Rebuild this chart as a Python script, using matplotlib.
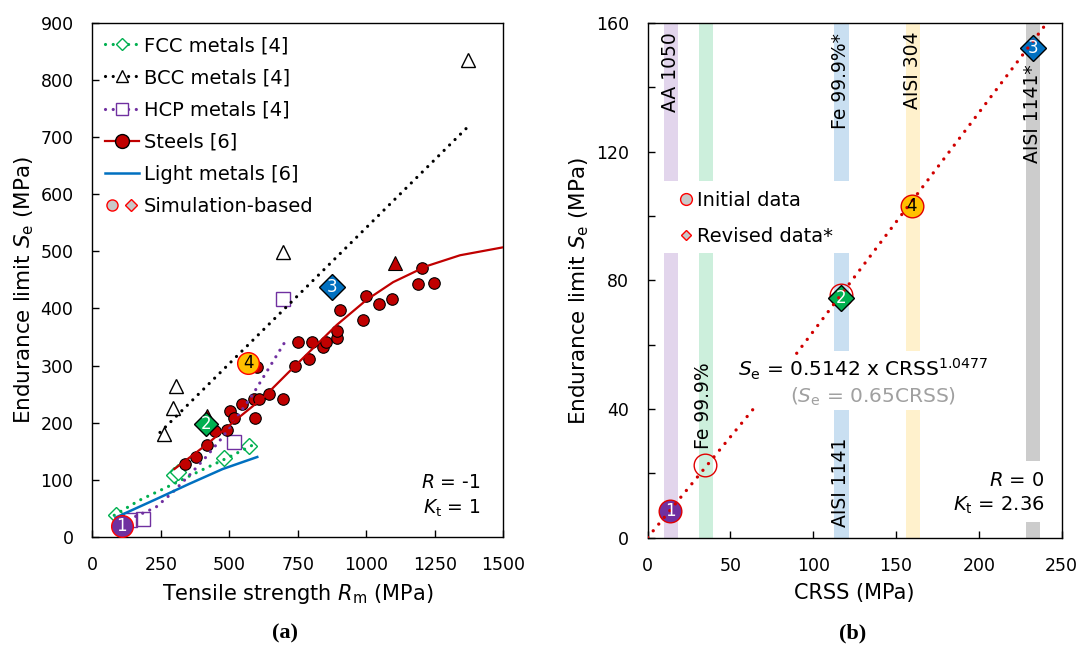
import numpy as np
import matplotlib.pyplot as plt
from matplotlib.lines import Line2D
from matplotlib.legend_handler import HandlerTuple

plt.rcParams['font.family'] = ['DejaVu Sans']
plt.rcParams['mathtext.fontset'] = 'dejavusans'

## DATA (a) ------
fcc_rm = [85, 299, 314, 482, 573]
fcc_se = [38, 108, 113, 138, 159]
fcc_fit_rm = [80, 171, 293, 390, 500, 598]
fcc_fit_se = [38, 64, 92, 115, 140, 164]

bcc_rm = [262, 293, 307, 697, 1371]
bcc_se = [180, 225, 265, 499, 834]
bcc_fit_rm = [247, 1371]
bcc_fit_se = [183, 718]

hcp_rm = [138, 184, 517, 697]
hcp_se = [30, 32, 167, 416]
hcp_fit_rm = [107, 232, 293, 354, 415, 476, 537, 585, 709]
hcp_fit_se = [25, 52, 78, 108, 140, 175, 216, 249, 346]

steel_rm = [338, 378, 418, 449, 490, 504, 516, 546, 589, 595, 607, 644, 695, 600,
            740, 749, 789, 803, 843, 854, 894, 894, 903, 987, 999, 1046, 1095,
            1187, 1203, 1247]
steel_se = [128, 140, 161, 186, 187, 221, 209, 233, 241, 209, 241, 250, 241, 298,
            300, 342, 312, 342, 332, 342, 349, 361, 398, 379, 421, 408, 417,
            442, 470, 444]
steel_tri_rm = [420, 1103]
steel_tri_se = [212, 480]
steel_fit_rm = [300, 415, 524, 622, 720, 892, 1001, 1098, 1220, 1342, 1500]
steel_fit_se = [119, 161, 205, 243, 290, 371, 415, 446, 474, 493, 507]

light_fit_rm = [85, 232, 354, 476, 602]
light_fit_se = [34, 66, 93, 119, 140]

# simulation-based points 1..4
sim_rm = [107, 414, 876, 569]
sim_se = [20, 198, 438, 304]

## DATA (b) ------
bar_crss = [14, 35.3, 117, 160, 232.8]
bar_colors = ['#e2d5ec', '#ccefdc', '#c9dff1', '#fff1cc', '#cccccc']
bar_segments = [
    [(0, 88.4), (110.9, 160)],
    [(0, 88.4), (110.9, 160)],
    [(0, 39.7), (58, 88.4), (110.9, 160)],
    [(0, 39.7), (58, 160)],
    [(0, 4.9), (23.8, 160)],
]

init_crss = [13.7, 34.7, 116.7, 159.6]
init_se = [8.3, 22.5, 75.5, 103.2]
init_face = ['#7030a0', 'none', 'none', '#ffc000']
init_num = ['1', '', '', '4']

rev_crss = [117, 232.5]
rev_se = [74.4, 152.3]
rev_face = ['#00b050', '#0070c0']
rev_num = ['2', '3']

fit_crss = [0, 64, np.nan, 90, 241]
fit_se = [0, 40.1, np.nan, 57.3, 160]

RED = '#c00000'
dots = (0, (0.01, 2.4))

fig = plt.figure(figsize=(10.82, 6.61), dpi=100)
ax1 = fig.add_axes([0.0853, 0.1876, 0.3799, 0.7781])
ax2 = fig.add_axes([0.5986, 0.1868, 0.3826, 0.7784])

## PANEL (a) ------
ax1.plot(fcc_fit_rm, fcc_fit_se, color='#00b050', ls=dots, lw=2.3, dash_capstyle='round', zorder=3)
ax1.plot(bcc_fit_rm, bcc_fit_se, color='black', ls=dots, lw=2.3, dash_capstyle='round', zorder=3)
ax1.plot(hcp_fit_rm, hcp_fit_se, color='#7030a0', ls=dots, lw=2.3, dash_capstyle='round', zorder=3)
ax1.plot(steel_fit_rm, steel_fit_se, color=RED, lw=1.6, zorder=3)
ax1.plot(light_fit_rm, light_fit_se, color='#0070c0', lw=1.8, zorder=3)

ax1.plot(fcc_rm, fcc_se, 'D', ms=8.5, mfc='white', mec='#00b050', mew=1.0, zorder=2)
ax1.plot(bcc_rm, bcc_se, '^', ms=10, mfc='white', mec='black', mew=1.0, zorder=2)
ax1.plot(hcp_rm, hcp_se, 's', ms=9.8, mfc='none', mec='#7030a0', mew=1.0, zorder=2)
ax1.plot(steel_rm, steel_se, 'o', ms=8.3, mfc=RED, mec='black', mew=0.8, zorder=2)
ax1.plot(steel_tri_rm, steel_tri_se, '^', ms=10, mfc=RED, mec='black', mew=0.8, zorder=2)

sim_style = [('o', '#7030a0', 'red', 15.6, 'white'),
             ('D', '#00b050', 'black', 12.6, 'white'),
             ('D', '#0070c0', 'black', 13, 'white'),
             ('o', '#ffc000', 'red', 15.6, 'black')]
for i, (m, fc, ec, ms, tc) in enumerate(sim_style):
    ax1.plot(sim_rm[i], sim_se[i], m, ms=ms, mfc=fc, mec=ec, mew=1.0, zorder=4)
    ax1.text(sim_rm[i], sim_se[i], str(i + 1), color=tc, fontsize=12,
             ha='center', va='center', zorder=5)

ax1.text(1417, 95, '$R$ = -1', fontsize=13.5, ha='right', va='center')
ax1.text(1417, 51, r'$K_\mathrm{t}$ = 1', fontsize=13.5, ha='right', va='center')

ax1.set_xlim(0, 1500)
ax1.set_ylim(0, 900)
ax1.set_xticks(np.arange(0, 1501, 250))
ax1.set_yticks(np.arange(0, 901, 100))
ax1.set_xlabel(r'Tensile strength $R_\mathrm{m}$ (MPa)', fontsize=15)
ax1.set_ylabel(r'Endurance limit $S_\mathrm{e}$ (MPa)', fontsize=15.5)
ax1.xaxis.set_label_coords(0.5, -0.088)
ax1.yaxis.set_label_coords(-0.137, 0.48)

handles = [
    Line2D([], [], color='#00b050', ls=dots, lw=2.3, dash_capstyle='round',
           marker='D', ms=6.5, mfc='white', mec='#00b050'),
    Line2D([], [], color='black', ls=dots, lw=2.3, dash_capstyle='round',
           marker='^', ms=8, mfc='white', mec='black'),
    Line2D([], [], color='#7030a0', ls=dots, lw=2.3, dash_capstyle='round',
           marker='s', ms=8, mfc='white', mec='#7030a0'),
    Line2D([], [], color=RED, lw=1.6, marker='o', ms=10, mfc=RED, mec='black'),
    Line2D([], [], color='#0070c0', lw=1.8),
    (Line2D([], [], ls='none', marker='o', ms=8, mfc='#c8c8c8', mec='red'),
     Line2D([], [], ls='none', marker='D', ms=6.5, mfc='#c8c8c8', mec='red')),
]
labels = ['FCC metals [4]', 'BCC metals [4]', 'HCP metals [4]', 'Steels [6]',
          'Light metals [6]', 'Simulation-based']
ax1.legend(handles, labels, loc='upper left', bbox_to_anchor=(0.03, 0.974),
           frameon=False, fontsize=14, handlelength=1.75, handletextpad=0.25,
           labelspacing=0.68, borderpad=0, borderaxespad=0, numpoints=1,
           handler_map={tuple: HandlerTuple(ndivide=None, pad=0.2)})

## PANEL (b) ------
for xc, col, segs in zip(bar_crss, bar_colors, bar_segments):
    for lo, hi in segs:
        ax2.bar(xc, hi - lo, bottom=lo, width=8.6, color=col, zorder=1)

ax2.text(13.7, 157, 'AA 1050', rotation=90, fontsize=13.5, ha='center', va='top', zorder=2)
ax2.text(33.7, 27.5, 'Fe 99.9%', rotation=90, fontsize=13.5, ha='center', va='bottom', zorder=2)
ax2.text(116.7, 157, 'Fe 99.9%*', rotation=90, fontsize=13.5, ha='center', va='top', zorder=2)
ax2.text(116.7, 3.2, 'AISI 1141', rotation=90, fontsize=13.5, ha='center', va='bottom', zorder=2)
ax2.text(159.8, 157.5, 'AISI 304', rotation=90, fontsize=13.5, ha='center', va='top', zorder=2)
ax2.text(232.5, 147, 'AISI 1141*', rotation=90, fontsize=13.5, ha='center', va='top', zorder=2)

for x, y, fc, n in zip(init_crss, init_se, init_face, init_num):
    ax2.plot(x, y, 'o', ms=16.3, mfc=fc, mec='#e00000', mew=1.0, zorder=3)
for x, y, fc in zip(rev_crss, rev_se, rev_face):
    ax2.plot(x, y, 'D', ms=12.8, mfc=fc, mec='black', mew=1.0, zorder=4)

ax2.plot(fit_crss, fit_se, color='#d00000', ls=(0, (0.01, 2.6)), lw=2.4,
         dash_capstyle='round', zorder=5)

for x, y, fc, n in zip(init_crss, init_se, init_face, init_num):
    if n:
        ax2.text(x, y, n, fontsize=12, ha='center', va='center', zorder=6,
                 color='white' if n == '1' else 'black')
for x, y, n in zip(rev_crss, rev_se, rev_num):
    ax2.text(x, y, n, fontsize=12, ha='center', va='center', zorder=6, color='white')

ax2.text(54.5, 52.3, r'$S_\mathrm{e}$ = 0.5142 x CRSS$^{1.0477}$', fontsize=14.5,
         ha='left', va='center', zorder=6)
ax2.text(86, 43.9, r'($S_\mathrm{e}$ = 0.65CRSS)', fontsize=14.5, color='#a0a0a0',
         ha='left', va='center', zorder=6)
ax2.text(239.5, 17.7, '$R$ = 0', fontsize=14, ha='right', va='center', zorder=6)
ax2.text(239.5, 9.9, r'$K_\mathrm{t}$ = 2.36', fontsize=14, ha='right', va='center', zorder=6)

h2 = [Line2D([], [], ls='none', marker='o', ms=8.5, mfc='#c8c8c8', mec='red'),
      Line2D([], [], ls='none', marker='D', ms=5.5, mfc='#c8c8c8', mec='red')]
ax2.legend(h2, ['Initial data', 'Revised data*'], loc='upper left',
           bbox_to_anchor=(0.078, 0.674), frameon=False, fontsize=14,
           handlelength=0.6, handletextpad=0.3, labelspacing=0.9,
           borderpad=0, borderaxespad=0, numpoints=1)

ax2.set_xlim(0, 250)
ax2.set_ylim(0, 160)
ax2.set_xticks(np.arange(0, 251, 50))
ax2.set_yticks(np.arange(0, 161, 40))
ax2.set_yticks(np.arange(20, 161, 40), minor=True)
ax2.set_xlabel('CRSS (MPa)', fontsize=15)
ax2.set_ylabel(r'Endurance limit $S_\mathrm{e}$ (MPa)', fontsize=15.5)
ax2.xaxis.set_label_coords(0.5, -0.088)
ax2.yaxis.set_label_coords(-0.137, 0.48)

for ax in (ax1, ax2):
    ax.tick_params(which='both', direction='in', length=5, width=1, labelsize=12.5)
    ax.tick_params(axis='x', pad=14)
    ax.tick_params(axis='y', pad=13.5)
    for s in ax.spines.values():
        s.set_linewidth(1.0)

fig.text(0.263, 0.042, '(a)', fontsize=16, fontweight='bold', family='Liberation Serif',
         ha='center', va='center')
fig.text(0.788, 0.042, '(b)', fontsize=16, fontweight='bold', family='Liberation Serif',
         ha='center', va='center')

fig.savefig('out.png', dpi=100)
